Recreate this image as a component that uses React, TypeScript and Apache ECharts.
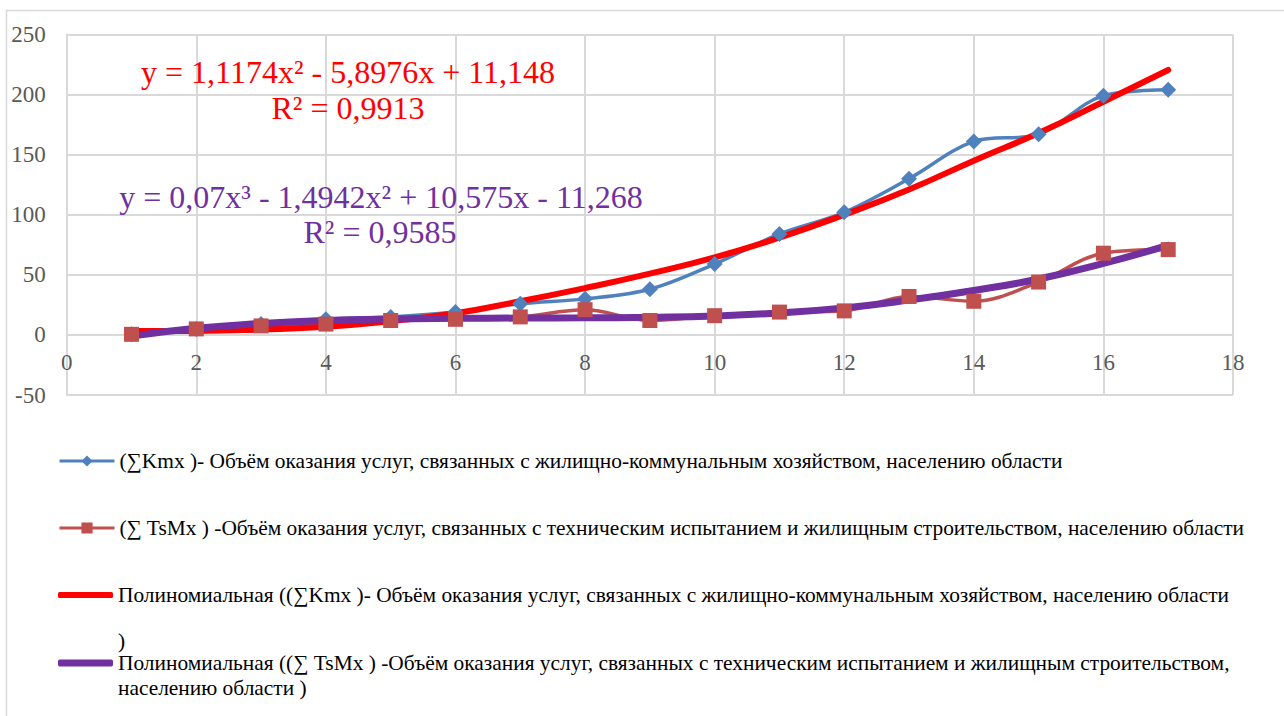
import React, { useEffect, useRef } from "react";
import * as echarts from "echarts";

const xValues = [1, 2, 3, 4, 5, 6, 7, 8, 9, 10, 11, 12, 13, 14, 15, 16, 17];
const kmx = [0.5, 5, 9, 13, 15, 19, 26, 30, 38, 59, 84, 102, 130, 161, 167, 199, 204];
const tsmx = [0.5, 5, 7.5, 9, 12, 13, 15, 21, 12, 16, 19, 20, 32, 28, 44, 68, 71];
const kmxTrend = [3.2, 3.3, 4.5, 6.8, 11.5, 18, 28, 39, 51, 64.5, 81, 100, 121, 145, 168, 194, 220.5];
const tsmxTrend = [-1, 5.5, 9.5, 12, 13.3, 13.8, 14, 14.2, 14.7, 15.8, 18.3, 22.5, 29, 37, 46.5, 59.5, 74.5];

const yAxisRange = { min: -50, max: 250, interval: 50 };
const xAxisRange = { min: 0, max: 18, interval: 2 };

const names = [
  "(∑Kmx )- Объём оказания услуг, связанных с жилищно-коммунальным хозяйством, населению области",
  "(∑ TsMx ) -Объём оказания услуг, связанных с техническим испытанием и жилищным строительством, населению области",
  "Полиномиальная ((∑Kmx )- Объём оказания услуг, связанных с жилищно-коммунальным хозяйством, населению области )",
  "Полиномиальная ((∑ TsMx ) -Объём оказания услуг, связанных с техническим испытанием и жилищным строительством, населению области )",
];
const legendLines = [
  ["(∑Kmx )- Объём оказания услуг, связанных с жилищно-коммунальным хозяйством, населению области"],
  ["(∑ TsMx ) -Объём оказания услуг, связанных с техническим испытанием и жилищным строительством, населению области"],
  ["Полиномиальная ((∑Kmx )- Объём оказания услуг, связанных с жилищно-коммунальным хозяйством, населению области", ")"],
  ["Полиномиальная ((∑ TsMx ) -Объём оказания услуг, связанных с техническим испытанием и жилищным строительством,", "населению области )"],
];

const eqKmx = ["y = 1,1174x² - 5,8976x + 11,148", "R² = 0,9913"];
const eqTsmx = ["y = 0,07x³ - 1,4942x² + 10,575x - 11,268", "R² = 0,9585"];

const colors = ["#4F81BD", "#C0504D", "#FF0000", "#7030A0"];

const SERIF = "Liberation Serif";

export default function App() {
  const ref = useRef<HTMLDivElement>(null);
  useEffect(() => {
    if (!ref.current) return;
    const chart = echarts.init(ref.current, null, { renderer: "svg" });
    const pair = (ys: number[]) => xValues.map((x, i) => [x, ys[i]]);

    const legendCfg = [
      { center: 461, lh: 25, ih: 14, icon: undefined as string | undefined, lw: 3 },
      { center: 528, lh: 25, ih: 14, icon: undefined as string | undefined, lw: 3 },
      { center: 595, lh: 46, ih: 6, icon: "roundRect", lw: 5 },
      { center: 663, lh: 25, ih: 7, icon: "roundRect", lw: 6 },
    ];

    const legends = names.map((n, i) => {
      const lines = legendLines[i];
      const c = legendCfg[i];
      const nLines = lines.length;
      const pre = "\n".repeat(nLines - 1);
      const boxH = (2 * nLines - 1) * c.lh;
      return {
        show: true,
        data: [c.icon ? { name: n, icon: c.icon } : { name: n }],
        left: 58,
        top: c.center - boxH / 2,
        orient: "horizontal",
        itemWidth: 55,
        itemHeight: c.ih,
        itemGap: 0,
        padding: 0,
        selectedMode: false,
        formatter: () => pre + lines.join("\n"),
        lineStyle: { width: c.lw },
        textStyle: {
          fontFamily: SERIF,
          fontSize: 21.4,
          color: "#000",
          lineHeight: c.lh,
        },
      };
    });

    const eqText = (txt: string, x: number, y: number, fill: string) => ({
      type: "text",
      style: {
        text: txt,
        x,
        y,
        align: "center",
        verticalAlign: "middle",
        fontFamily: SERIF,
        fontSize: 32,
        fill,
      },
      z: 100,
    });

    chart.setOption({
      animation: false,
      backgroundColor: "#fff",
      textStyle: { fontFamily: SERIF },
      grid: { left: 66.7, top: 34.5, right: 51, bottom: 321, containLabel: false },
      xAxis: {
        type: "value",
        min: xAxisRange.min,
        max: xAxisRange.max,
        interval: xAxisRange.interval,
        offset: -60.1,
        axisLine: { show: true, onZero: false, lineStyle: { color: "#D9D9D9", width: 2 } },
        axisTick: { show: false },
        axisLabel: { fontFamily: SERIF, fontSize: 23, color: "#595959", margin: 16 },
        splitLine: { show: true, lineStyle: { color: "#D9D9D9", width: 2 } },
      },
      yAxis: {
        type: "value",
        min: yAxisRange.min,
        max: yAxisRange.max,
        interval: yAxisRange.interval,
        axisLine: { show: true, onZero: false, lineStyle: { color: "#D9D9D9", width: 2 } },
        axisTick: { show: false },
        axisLabel: { fontFamily: SERIF, fontSize: 23, color: "#595959", margin: 21 },
        splitLine: { show: true, lineStyle: { color: "#D9D9D9", width: 2 } },
      },
      legend: legends,
      graphic: [
        {
          type: "rect",
          shape: { x: 6.5, y: 10.5, width: 1300, height: 730 },
          style: { fill: "none", stroke: "#D9D9D9", lineWidth: 1.5 },
          z: -1,
        },
        eqText(eqKmx[0], 348, 72, colors[2]),
        eqText(eqKmx[1], 348, 108, colors[2]),
        eqText(eqTsmx[0], 381, 197, colors[3]),
        eqText(eqTsmx[1], 380, 232, colors[3]),
      ],
      series: [
        {
          name: names[0],
          type: "line",
          data: pair(kmx),
          smooth: 0.35,
          symbol: "diamond",
          symbolSize: 16,
          color: colors[0],
          lineStyle: { width: 3.5, color: colors[0] },
          itemStyle: { color: colors[0] },
        },
        {
          name: names[1],
          type: "line",
          data: pair(tsmx),
          smooth: 0.35,
          symbol: "rect",
          symbolSize: 15,
          color: colors[1],
          lineStyle: { width: 3.5, color: colors[1] },
          itemStyle: { color: colors[1] },
        },
        {
          name: names[2],
          type: "line",
          data: pair(kmxTrend),
          smooth: 0.5,
          symbol: "none",
          color: colors[2],
          itemStyle: { color: colors[2] },
          lineStyle: { width: 6, color: colors[2], cap: "round" },
        },
        {
          name: names[3],
          type: "line",
          data: pair(tsmxTrend),
          smooth: 0.5,
          symbol: "none",
          color: colors[3],
          itemStyle: { color: colors[3] },
          lineStyle: { width: 7, color: colors[3], cap: "round" },
        },
      ],
    });
    return () => chart.dispose();
  }, []);
  return (
    <div
      ref={ref}
      style={{ position: "fixed", left: 0, top: 0, width: 1284, height: 716, background: "#fff" }}
    />
  );
}
